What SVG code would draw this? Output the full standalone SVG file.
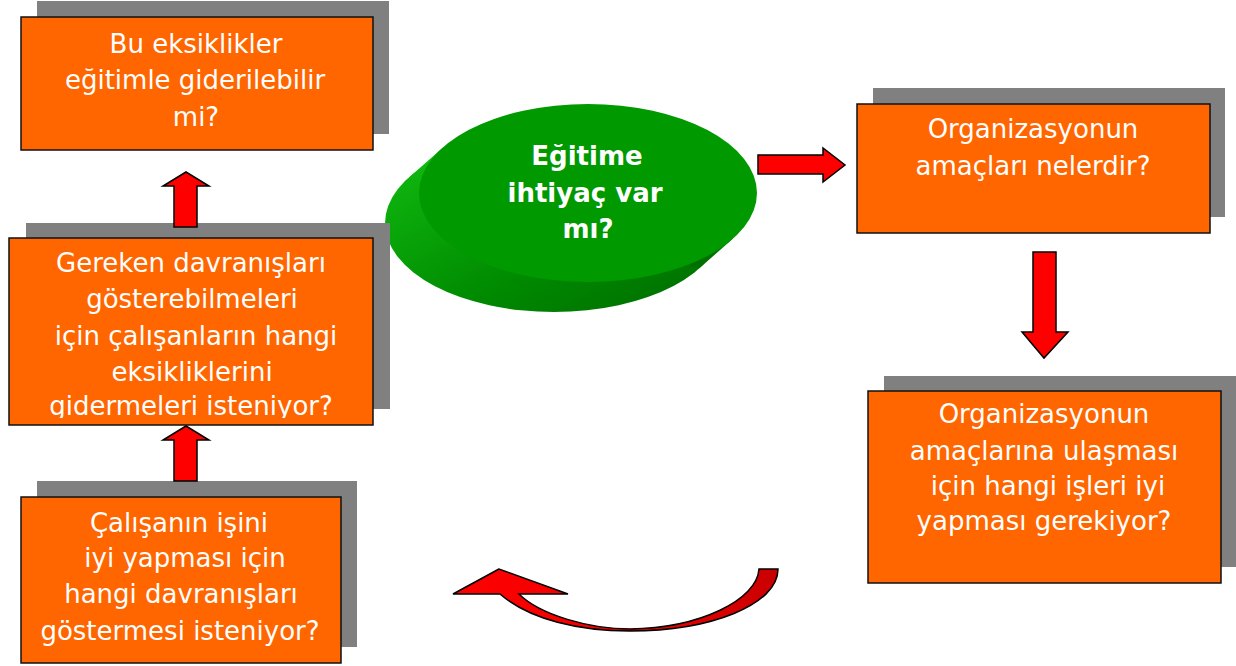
<svg xmlns="http://www.w3.org/2000/svg" width="1236" height="666" viewBox="0 0 1236 666">
<defs>
<style>
.sh{fill:#808080}
.bx{fill:#FF6600;stroke:#111;stroke-width:1.5}
.t{font-family:"DejaVu Sans",sans-serif;font-size:26px;fill:#fff;text-anchor:middle}
.tb{font-family:"DejaVu Sans",sans-serif;font-size:26px;font-weight:bold;fill:#fff;text-anchor:middle}
.ar{fill:#FF0000;stroke:#000;stroke-width:1.5;stroke-linejoin:miter}
</style>
<linearGradient id="side" x1="0" y1="0" x2="1" y2="1">
<stop offset="0" stop-color="#12c012"/>
<stop offset="0.6" stop-color="#008a00"/>
<stop offset="1" stop-color="#006a00"/>
</linearGradient>
<linearGradient id="curv" x1="0" y1="0" x2="1" y2="0">
<stop offset="0" stop-color="#FF0000"/>
<stop offset="0.6" stop-color="#EE0000"/>
<stop offset="1" stop-color="#C80000"/>
</linearGradient>
<clipPath id="c2"><rect x="9" y="238" width="364" height="180"/></clipPath>
</defs>

<g id="ellipse-node">
<ellipse cx="554" cy="223" rx="169" ry="89" fill="url(#side)"/>
<polygon points="443,147.4 409,177.4 699,268.6 733,238.6" fill="url(#side)"/>
<ellipse cx="588" cy="193" rx="169" ry="89" fill="#009900"/>
<text class="tb" x="587" y="165">Eğitime</text>
<text class="tb" x="585" y="202">ihtiyaç var</text>
<text class="tb" x="588" y="238">mı?</text>
</g>

<g id="box1">
<rect class="sh" x="37" y="1" width="352" height="133"/>
<rect class="bx" x="21" y="17" width="352" height="133"/>
<text class="t" x="196" y="53">Bu eksiklikler</text>
<text class="t" x="195" y="89">eğitimle giderilebilir</text>
<text class="t" x="196" y="126">mi?</text>
</g>

<g id="box2">
<rect class="sh" x="26" y="223" width="364" height="186"/>
<rect class="bx" x="9" y="238" width="364" height="187"/>
<g clip-path="url(#c2)">
<text class="t" x="191" y="272">Gereken davranışları</text>
<text class="t" x="192" y="308">gösterebilmeleri</text>
<text class="t" x="196" y="345">için çalışanların hangi</text>
<text class="t" x="192" y="381">eksikliklerini</text>
<text class="t" x="191" y="415">gidermeleri isteniyor?</text>
</g>
</g>

<g id="box3">
<rect class="sh" x="37" y="481" width="320" height="166"/>
<rect class="bx" x="21" y="497" width="320" height="166"/>
<text class="t" x="179" y="532">Çalışanın işini</text>
<text class="t" x="185" y="567">iyi yapması için</text>
<text class="t" x="181" y="603">hangi davranışları</text>
<text class="t" x="180" y="640">göstermesi isteniyor?</text>
</g>

<g id="box4">
<rect class="sh" x="873" y="88" width="352" height="129"/>
<rect class="bx" x="857" y="104" width="353" height="129"/>
<text class="t" x="1033" y="138">Organizasyonun</text>
<text class="t" x="1033" y="175">amaçları nelerdir?</text>
</g>

<g id="box5">
<rect class="sh" x="884" y="376" width="353" height="191"/>
<rect class="bx" x="868" y="391" width="353" height="192"/>
<text class="t" x="1044" y="423">Organizasyonun</text>
<text class="t" x="1044" y="460">amaçlarına ulaşması</text>
<text class="t" x="1048" y="495">için hangi işleri iyi</text>
<text class="t" x="1044" y="530">yapması gerekiyor?</text>
</g>

<g id="connectors">
<path class="ar" d="M758 155 L823 155 L823 148 L845 165 L823 182 L823 174 L758 174 Z"/>
<path class="ar" d="M1033 252 L1056 252 L1056 332 L1068 332 L1044 358 L1022 332 L1033 332 Z"/>
<path class="ar" d="M186 172 L209 186 L197 186 L197 227 L174 227 L174 186 L163 186 Z"/>
<path class="ar" d="M186 426 L209 440 L197 440 L197 481 L174 481 L174 440 L163 440 Z"/>
<path d="M499 569 L453 594 L500 594 C530 620 580 631 630 631 C710 631 778 605 778 569 L759 569 C757 600 700 628 630 629 C590 629 540 615 519 594 L568 594 Z" fill="url(#curv)" stroke="#000" stroke-width="1.5"/>
</g>
</svg>
